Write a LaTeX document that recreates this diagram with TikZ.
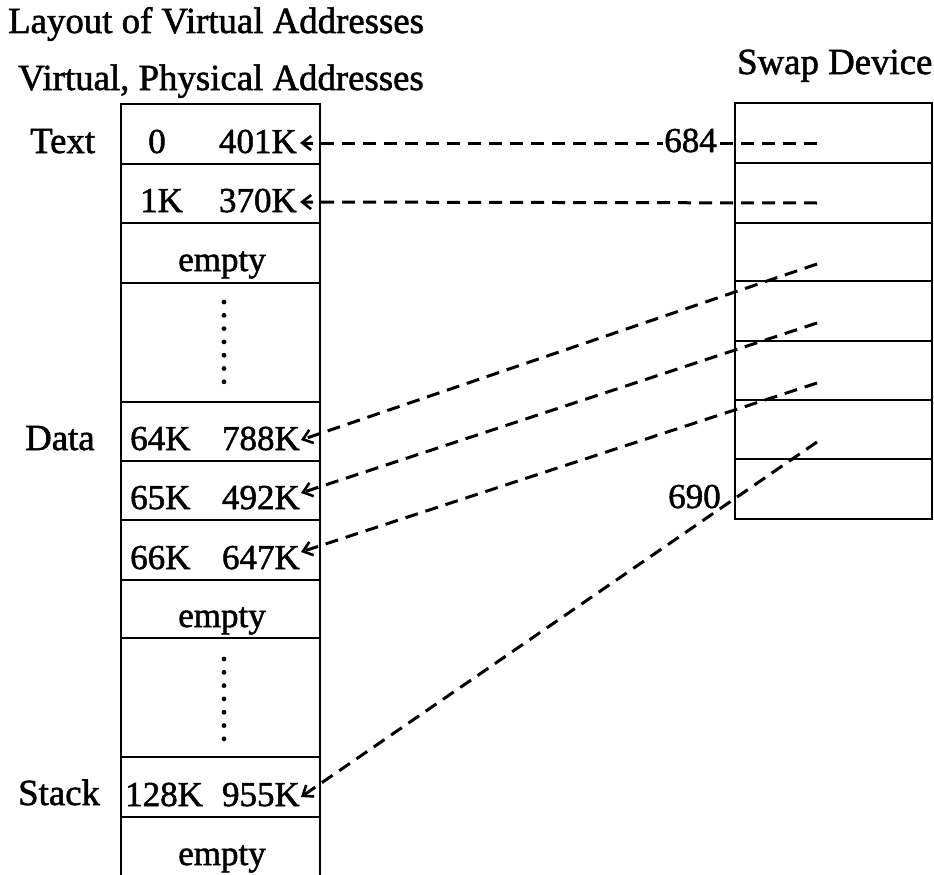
\documentclass[tikz,border=0pt]{standalone}
\usepackage{fontspec}
\setmainfont{Liberation Serif}
\newfontfamily\scanfont{Liberation Serif}[FakeBold=1.5]
\usetikzlibrary{arrows.meta}
\begin{document}
\begin{tikzpicture}[x=1pt,y=-1pt,
  cell/.style={draw, line width=2.6pt, minimum width=199pt, inner sep=0pt, outer sep=0pt},
  swapcell/.style={draw, line width=2.6pt, minimum width=197pt, inner sep=0pt, outer sep=0pt},
  lbl/.style={font=\scanfont\fontsize{35}{40}\selectfont, inner sep=0pt},
  ttl/.style={font=\scanfont\fontsize{36.8}{40}\selectfont, inner sep=0pt},
  link/.style={line width=3pt, dash pattern=on 13pt off 8pt,
    -{Straight Barb[length=9pt,width=14pt,line width=2.6pt]}},
  dotmark/.style={fill=black}
]
\path[use as bounding box] (0,0) rectangle (934,875);

% titles
\node[ttl, anchor=base west] (title) at (8,33) {Layout of Virtual Addresses};
\node[ttl, anchor=base west] (vpa) at (18,90) {Virtual, Physical Addresses};
\node[ttl, anchor=base west] (swaptitle) at (737,74) {Swap Device};

% left table cells
\node[cell, minimum height=60pt] (c1) at (220.5,134) {};
\node[cell, minimum height=59pt] (c2) at (220.5,193.5) {};
\node[cell, minimum height=60pt] (c3) at (220.5,253) {};
\node[cell, minimum height=119pt] (c4) at (220.5,342.5) {};
\node[cell, minimum height=59pt] (c5) at (220.5,431.5) {};
\node[cell, minimum height=59pt] (c6) at (220.5,490.5) {};
\node[cell, minimum height=60pt] (c7) at (220.5,550) {};
\node[cell, minimum height=58pt] (c8) at (220.5,609) {};
\node[cell, minimum height=119pt] (c9) at (220.5,697.5) {};
\node[cell, minimum height=60pt] (c10) at (220.5,787) {};
\draw[line width=2.6pt] (121,877) -- (121,817) -- (320,817) -- (320,877);

% dots
\foreach \i in {0,...,6} {
  \fill[dotmark] (224,{302+13.3*\i}) circle (2.4pt);
  \fill[dotmark] (224,{659+13.3*\i}) circle (2.4pt);
}

% side labels
\node[ttl, anchor=base west] (ltext) at (30,153) {Text};
\node[ttl, anchor=base west] (ldata) at (25,450) {Data};
\node[ttl, anchor=base west] (lstack) at (18,805) {Stack};

% cell texts
\node[lbl, anchor=base] (v0) at (157,153) {0};
\node[lbl, anchor=base east] (p0) at (297,153) {401K};
\node[lbl, anchor=base west] (v1) at (140,212) {1K};
\node[lbl, anchor=base east] (p1) at (297,212) {370K};
\node[lbl, anchor=base] (e1) at (222,271) {empty};
\node[lbl, anchor=base west] (v64) at (130,450) {64K};
\node[lbl, anchor=base east] (p64) at (300,450) {788K};
\node[lbl, anchor=base west] (v65) at (130,509) {65K};
\node[lbl, anchor=base east] (p65) at (300,509) {492K};
\node[lbl, anchor=base west] (v66) at (130,569) {66K};
\node[lbl, anchor=base east] (p66) at (300,569) {647K};
\node[lbl, anchor=base] (e2) at (222,627) {empty};
\node[lbl, anchor=base west] (v128) at (125,806) {128K};
\node[lbl, anchor=base east] (p128) at (300,806) {955K};
\node[lbl, anchor=base] (e3) at (222,865) {empty};

% swap device cells
\node[swapcell, minimum height=60pt] (s1) at (833.5,133) {};
\node[swapcell, minimum height=60pt] (s2) at (833.5,193) {};
\node[swapcell, minimum height=58pt] (s3) at (833.5,252) {};
\node[swapcell, minimum height=60pt] (s4) at (833.5,311) {};
\node[swapcell, minimum height=59pt] (s5) at (833.5,370.5) {};
\node[swapcell, minimum height=59pt] (s6) at (833.5,429.5) {};
\node[swapcell, minimum height=60pt] (s7) at (833.5,489) {};

% connector end points
\coordinate (a1) at (817,143);
\coordinate (a2) at (817,203);
\coordinate (a3) at (817,264);
\coordinate (a4) at (817,323);
\coordinate (a5) at (817,383);
\coordinate (a6) at (817,442);
\coordinate (t1) at (300,143);
\coordinate (t2) at (300,202);
\coordinate (t3) at (301,440);
\coordinate (t4) at (301,493);
\coordinate (t5) at (301,552);
\coordinate (t6) at (301,797);

\draw[link] (a1) -- (t1);
\draw[link] (a2) -- (t2);
\draw[link] (a3) -- (t3);
\draw[link] (a4) -- (t4);
\draw[link] (a5) -- (t5);
\draw[link] (a6) -- (t6);

% block numbers
\node[lbl, anchor=base east, fill=white, inner sep=1pt] (n684) at (718,152) {684};
\node[lbl, anchor=base west] (n690) at (668,508) {690};
\end{tikzpicture}
\end{document}
